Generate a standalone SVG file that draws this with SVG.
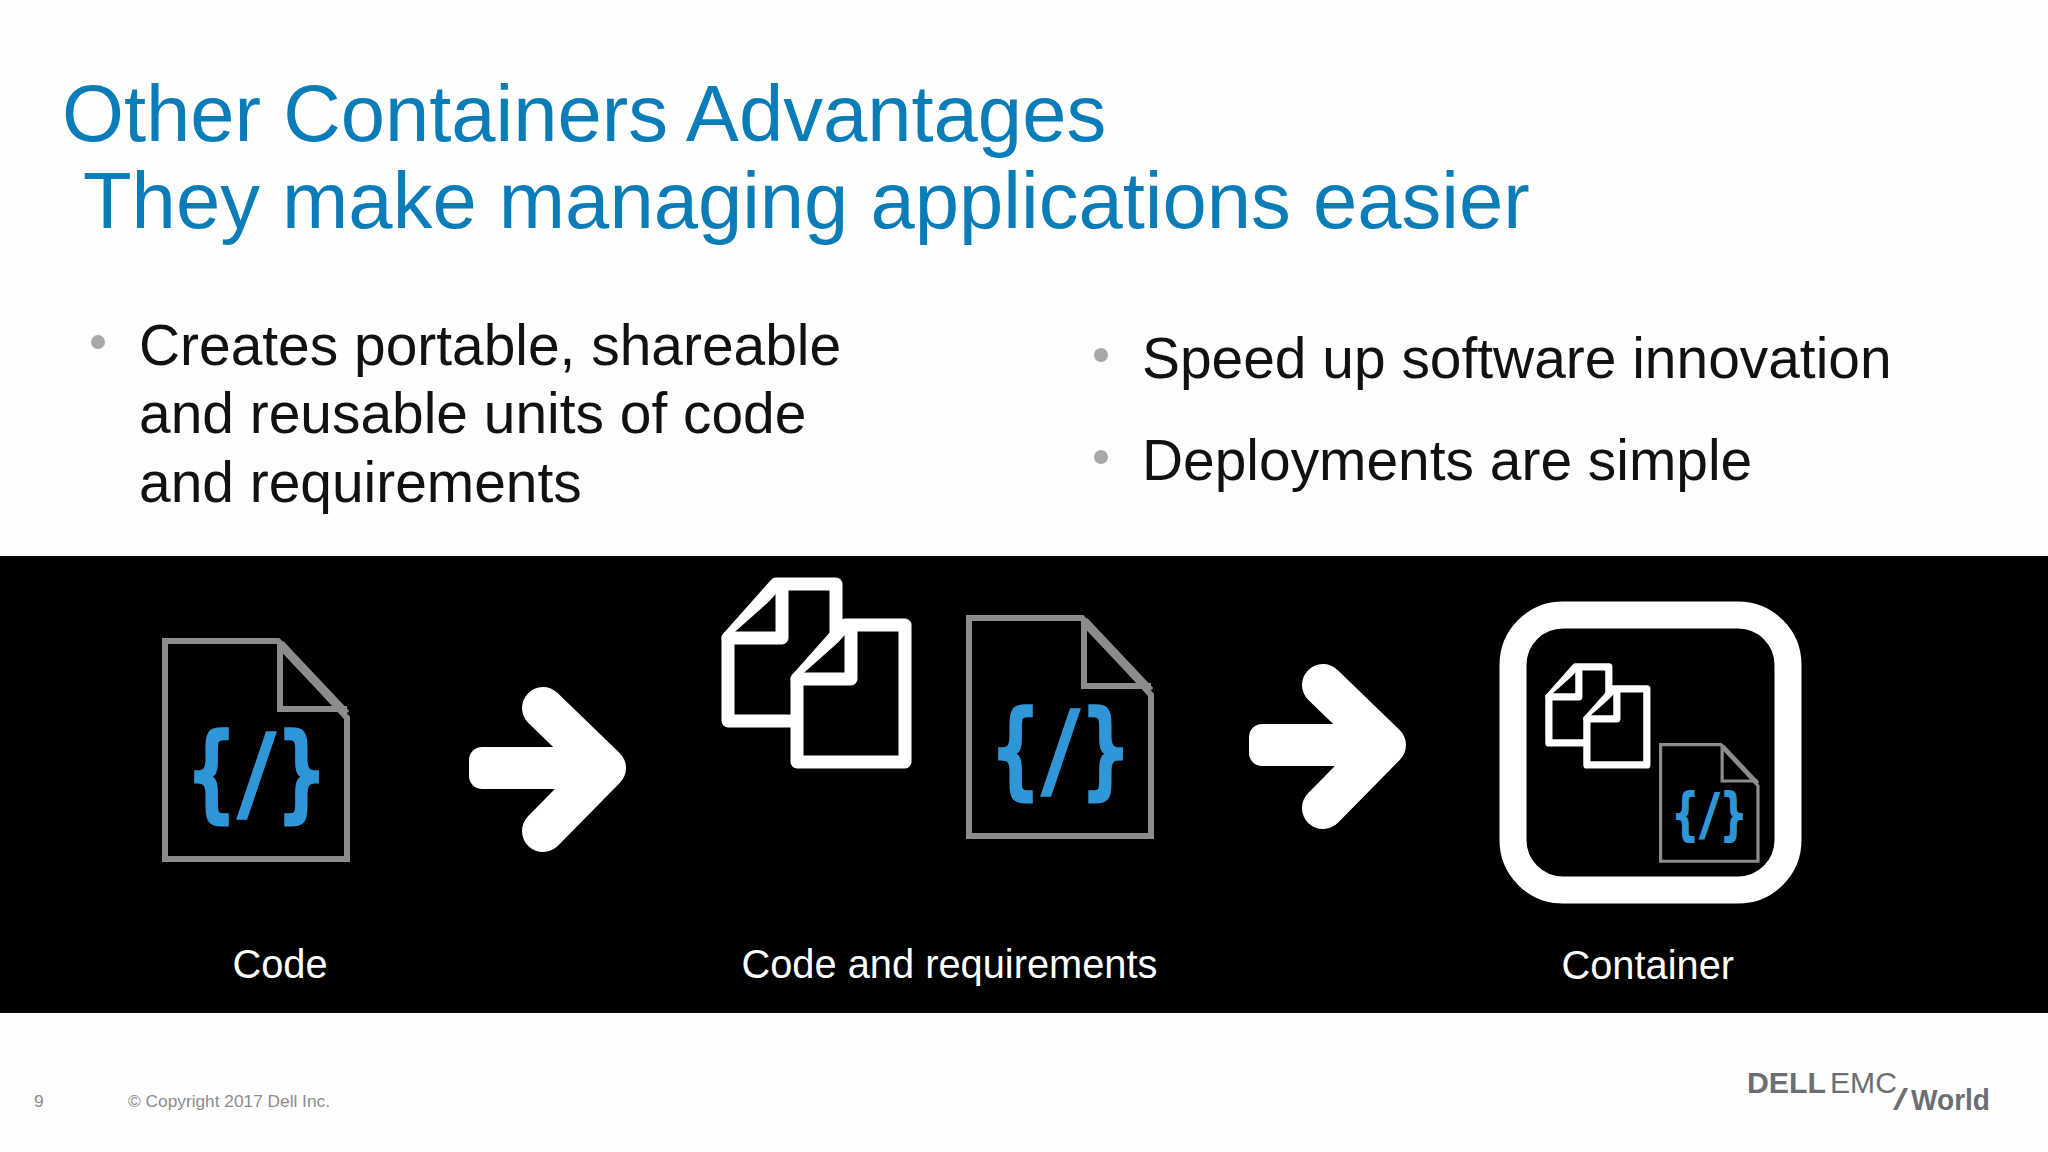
<svg xmlns="http://www.w3.org/2000/svg" width="2048" height="1152" viewBox="0 0 2048 1152">
<style>
text{font-family:"Liberation Sans",Arial,sans-serif}
.t{font-size:79.6px;fill:#0a7db8}
.b{font-size:56.9px;fill:#111}
.l{font-size:39.8px;fill:#fff}
.f{font-size:17.3px;fill:#8c8c8c}
.dot{fill:#a8a8a8}
.d{fill:#000;stroke:#8c8c8c;stroke-width:6;stroke-linejoin:miter}
.n{fill:none}
.x{fill:none;stroke:#8c8c8c;stroke-width:9;stroke-linecap:butt}
.g{font-family:"DejaVu Sans Mono",monospace;font-size:104px;font-weight:700;fill:#2f97d8;stroke:#2f97d8;stroke-width:3.5;text-anchor:middle}
.p{fill:#000;stroke:#fff;stroke-width:13;stroke-linejoin:round;stroke-linecap:round}
.a{fill:none;stroke:#fff;stroke-width:42;stroke-linejoin:round;stroke-linecap:round}
.lg{fill:#6d6e71}
</style>
<defs>
<g id="doc"><path class="d" d="M3 3H116L185 80V221H3Z"/><path class="d n" d="M118 6V71H185"/><path class="x" d="M118 6L184 76"/></g>
<g id="pages"><path class="p" d="M7 144V61L55 7H115V144Z"/><path class="p n" d="M61 13V61H7"/></g>
<g id="arrow"><rect x="0" y="0" width="130" height="42" rx="13" fill="#fff"/><path class="a" d="M74 -39L136 21L74 84"/></g>
</defs>
<rect width="2048" height="1152" fill="#fefefe"/>
<g id="title"><text class="t" x="62" y="141">Other Containers Advantages</text><text class="t" x="83" y="227.500">They make managing applications easier</text></g>
<g id="bullets-left"><circle class="dot" cx="98" cy="342" r="7"/><text class="b" x="139" y="365">Creates portable, shareable</text><text class="b" x="139" y="433">and reusable units of code</text><text class="b" x="139" y="501.500">and requirements</text></g>
<g id="bullets-right"><circle class="dot" cx="1101" cy="355" r="7"/><text class="b" x="1142" y="378">Speed up software innovation</text><circle class="dot" cx="1101" cy="457" r="7"/><text class="b" x="1142" y="480">Deployments are simple</text></g>
<rect id="band" x="0" y="556" width="2048" height="457" fill="#000"/>
<g id="node-code" >
<use href="#doc" transform="translate(162 638)"/>
<text class="g" transform="translate(256.500 808) scale(.72 1)" x="0" y="0">{/}</text>
<text class="l" x="232.500" y="978">Code</text>
</g>
<g id="connectors">
<use href="#arrow" transform="translate(469 747)"/>
<use href="#arrow" transform="translate(1249 724)"/>
</g>
<g id="node-code-requirements">
<use href="#pages" transform="translate(721 577)"/>
<use href="#pages" transform="translate(790 618)"/>
<use href="#doc" transform="translate(966 615)"/>
<text class="g" transform="translate(1060.500 785) scale(.72 1)" x="0" y="0">{/}</text>
<text class="l" x="741.500" y="978">Code and requirements</text>
</g>
<g id="node-container">
<rect x="1513" y="615" width="275" height="275" rx="50" fill="#000" stroke="#fff" stroke-width="27"/>
<use href="#pages" transform="translate(1545 663) scale(.555)"/>
<use href="#pages" transform="translate(1583 685) scale(.555)"/>
<use href="#doc" transform="translate(1659 743) scale(.535)"/>
<text class="g" transform="translate(1709.500 833) scale(.385 .535)" x="0" y="0">{/}</text>
<text class="l" x="1561.500" y="979">Container</text>
</g>
<g id="footer"><text class="f" x="34" y="1107">9</text><text class="f" x="128" y="1107">© Copyright 2017 Dell Inc.</text></g>
<g id="logo" class="lg">
<text x="1747" y="1093" font-size="30" font-weight="700" textLength="79" lengthAdjust="spacingAndGlyphs">DELL</text>
<text x="1830" y="1093" font-size="30" textLength="67" lengthAdjust="spacingAndGlyphs">EMC</text>
<text x="1893" y="1110" font-size="30" textLength="15" lengthAdjust="spacingAndGlyphs">/</text>
<text x="1911" y="1110" font-size="30" font-weight="700" textLength="79" lengthAdjust="spacingAndGlyphs">World</text>
</g>
</svg>
